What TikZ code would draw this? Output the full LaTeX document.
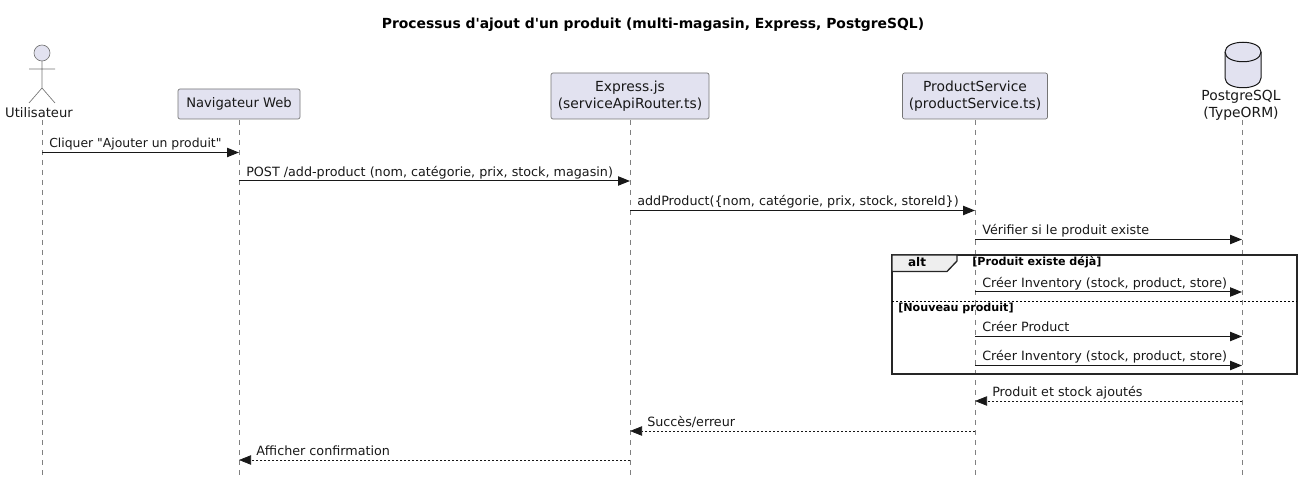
\documentclass[tikz,border=0pt]{standalone}
\usepackage{fontspec}
\setmainfont[Ligatures=TeXOff]{DejaVu Sans}
\usetikzlibrary{arrows.meta}
\definecolor{partfill}{HTML}{E2E2F0}
\definecolor{ink}{HTML}{181818}
\definecolor{tabfill}{HTML}{EEEEEE}
\begin{document}
\begin{tikzpicture}[x=0.75pt,y=-0.75pt,>={Triangle[length=9pt,width=7pt]}]

	\tikzstyle{part}=[rectangle,rounded corners=1.5pt,draw=ink!60,line width=0.5pt,fill=partfill,align=center,inner sep=0pt,font=\fontsize{10.4}{13}\selectfont,text=ink]
	\tikzstyle{plain}=[align=center,inner sep=0pt,font=\fontsize{10.4}{13}\selectfont,text=ink]
	\tikzstyle{lifeline}=[draw=ink!55,line width=0.4pt,dash pattern=on 3.75pt off 3.75pt]
	\tikzstyle{figure}=[draw=ink!60,line width=0.5pt]
	\tikzstyle{msg}=[->,draw=ink,line width=0.75pt]
	\tikzstyle{reply}=[->,draw=ink,line width=0.5pt,dash pattern=on 1.5pt off 1.5pt]
	\tikzstyle{msgtext}=[anchor=base west,inner sep=0pt,font=\fontsize{9.55}{11}\selectfont,text=ink]
	\tikzstyle{guard}=[anchor=base west,inner sep=0pt,font=\fontsize{8.35}{10}\selectfont\bfseries,text=black]

	\useasboundingbox (0,0) rectangle (1302,484);

	\node [anchor=base,inner sep=0pt,font=\fontsize{10.42}{13}\selectfont\bfseries] (title) at (653,29) {Processus d'ajout d'un produit (multi-magasin, Express, PostgreSQL)};

	% lifelines
	\coordinate (uTop) at (42,120);
	\coordinate (uEnd) at (42,475);
	\coordinate (nTop) at (239,120);
	\coordinate (nEnd) at (239,475);
	\coordinate (eTop) at (630,120);
	\coordinate (eEnd) at (630,475);
	\coordinate (pTop) at (975,120);
	\coordinate (pEnd) at (975,475);
	\coordinate (dTop) at (1242,120);
	\coordinate (dEnd) at (1242,475);
	\draw [lifeline] (uTop) -- (uEnd);
	\draw [lifeline] (nTop) -- (nEnd);
	\draw [lifeline] (eTop) -- (eEnd);
	\draw [lifeline] (pTop) -- (pEnd);
	\draw [lifeline] (dTop) -- (dEnd);

	% actor
	\draw [figure,fill=partfill] (42,53) circle (8);
	\draw [figure] (42,61) -- (42,88) (29,69) -- (55,69) (29,103) -- (42,88) -- (55,103);
	\node [plain,anchor=base,font=\fontsize{9.85}{13}\selectfont] (utilisateur) at (39,118) {Utilisateur};

	% boxes
	\node [part,minimum width=91.5pt,minimum height=22.5pt,font=\fontsize{9.85}{13}\selectfont] (navigateur) at (239,104) {Navigateur Web};
	\node [part,minimum width=118.5pt,minimum height=34.5pt] (express) at (630,96) {Express.js\\(serviceApiRouter.ts)};
	\node [part,minimum width=108.75pt,minimum height=34.5pt] (service) at (975,96) {ProductService\\(productService.ts)};

	% database
	\draw [draw=ink,line width=0.75pt,fill=partfill] (1225,52) .. controls (1225,39) and (1261,39) .. (1261,52) -- (1261,78) .. controls (1261,91) and (1225,91) .. (1225,78) -- cycle;
	\draw [draw=ink,line width=0.75pt] (1225,52) .. controls (1225,65) and (1261,65) .. (1261,52);
	\node [plain,anchor=base] (postgres) at (1241,118) {PostgreSQL\\(TypeORM)};

	% rows of the messages
	\coordinate (r1) at (0,152.5);
	\coordinate (r2) at (0,181);
	\coordinate (r3) at (0,210.5);
	\coordinate (r4) at (0,239.5);
	\coordinate (r5) at (0,292);
	\coordinate (r6) at (0,336.5);
	\coordinate (r7) at (0,365.5);
	\coordinate (r8) at (0,401);
	\coordinate (r9) at (0,431);
	\coordinate (r10) at (0,460);

	% alt frame
	\draw [draw=black!85,line width=1.5pt] (892,255) rectangle (1297,373.5);
	\draw [draw=black!85,line width=1pt,fill=tabfill] (892,255) -- (957,255) -- (957,261) -- (947,271.5) -- (892,271.5) -- cycle;
	\node [anchor=base,inner sep=0pt,font=\fontsize{9}{11}\selectfont\bfseries] (alt) at (917,267) {alt};
	\node [guard] (g1) at (972,266) {[Produit existe déjà]};
	\draw [draw=black,line width=0.5pt,dash pattern=on 1.5pt off 1.5pt] (892,301) -- (1297,301);
	\node [guard] (g2) at (898,312) {[Nouveau produit]};

	% messages
	\draw [msg] (uTop |- r1) -- (nTop |- r1);
	\node [msgtext,font=\fontsize{9.3}{11}\selectfont] (m1) at (49,147.5) {Cliquer "Ajouter un produit"};
	\draw [msg] (nTop |- r2) -- (eTop |- r2);
	\node [msgtext] (m2) at (246,176.5) {POST /add-product (nom, catégorie, prix, stock, magasin)};
	\draw [msg] (eTop |- r3) -- (pTop |- r3);
	\node [msgtext] (m3) at (637,205.5) {addProduct(\{nom, catégorie, prix, stock, storeId\})};
	\draw [msg] (pTop |- r4) -- (dTop |- r4);
	\node [msgtext] (m4) at (982,234.5) {Vérifier si le produit existe};
	\draw [msg] (pTop |- r5) -- (dTop |- r5);
	\node [msgtext] (m5) at (982,287.5) {Créer Inventory (stock, product, store)};
	\draw [msg] (pTop |- r6) -- (dTop |- r6);
	\node [msgtext] (m6) at (982,331.5) {Créer Product};
	\draw [msg] (pTop |- r7) -- (dTop |- r7);
	\node [msgtext] (m7) at (982,360.5) {Créer Inventory (stock, product, store)};
	\draw [reply] (dTop |- r8) -- (pTop |- r8);
	\node [msgtext] (m8) at (992,396.5) {Produit et stock ajoutés};
	\draw [reply] (pTop |- r9) -- (eTop |- r9);
	\node [msgtext] (m9) at (647,426.5) {Succès/erreur};
	\draw [reply] (eTop |- r10) -- (nTop |- r10);
	\node [msgtext] (m10) at (256,455.5) {Afficher confirmation};
\end{tikzpicture}
\end{document}
